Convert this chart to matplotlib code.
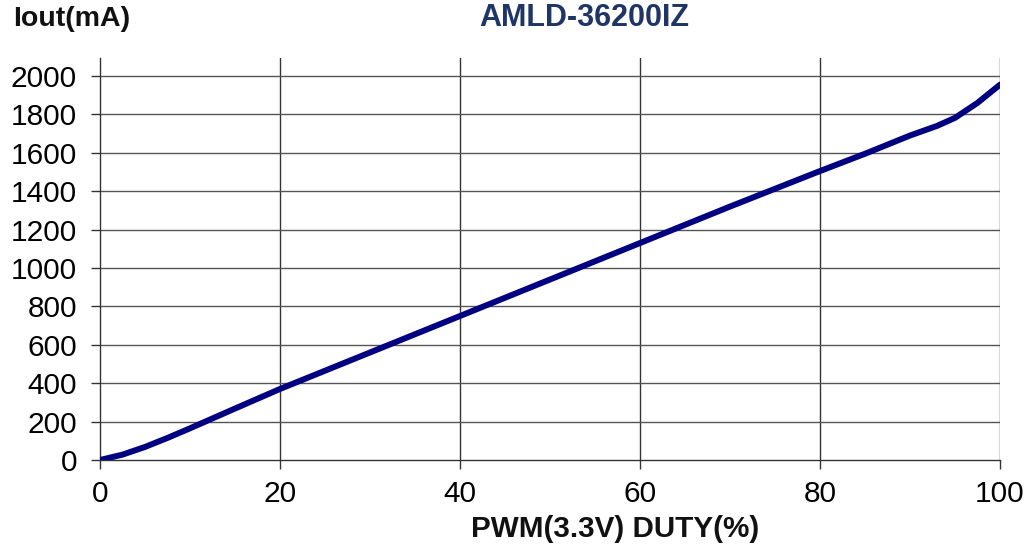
import numpy as np
import matplotlib
matplotlib.use("Agg")
from matplotlib import pyplot as plt

plt.rcParams['font.family'] = ['Liberation Sans', 'DejaVu Sans']

# duty (%) vs output current (mA)
duty = [0, 2.5, 5, 7.5, 10, 15, 20, 30, 40, 50, 60, 70, 80, 85, 90, 93, 95, 97.5, 100]
iout = [0, 28, 68, 115, 165, 268, 370, 560, 750, 940, 1130, 1320, 1505, 1595, 1690, 1740, 1782, 1860, 1955]

xticks = [0, 20, 40, 60, 80, 100]
yticks = list(range(0, 2001, 200))

fig = plt.figure(figsize=(10.24, 5.5), dpi=100)
ax = fig.add_axes([100/1024, 1 - 460/550, 900/1024, (460 - 58)/550])

ax.plot(duty, iout, color='#000080', linewidth=4.3, solid_capstyle='round',
        solid_joinstyle='round', zorder=3)

ax.set_xlim(0, 100)
ax.set_ylim(0, 2000 * (460 - 58) / (460 - 76))
ax.set_xticks(xticks)
ax.set_yticks(yticks)

for v in xticks[1:]:
    ax.axvline(v, color='#333333', linewidth=1.0, zorder=1)
for v in yticks[1:]:
    ax.axhline(v, color='#555555', linewidth=1.0, zorder=1)

for s in ['top', 'right']:
    ax.spines[s].set_visible(False)
for s in ['left', 'bottom']:
    ax.spines[s].set_color('#333333')
    ax.spines[s].set_linewidth(1.0)

ax.tick_params(direction='out', length=6.5, width=1.0, color='#333333',
               labelsize=21.5)
ax.tick_params(axis='y', pad=10)
ax.tick_params(axis='x', pad=8)

fig.text(13/1024, 1 - 19/550, 'Iout(mA)', fontsize=20.5, fontweight='bold',
         ha='left', va='center', color='#111111')
fig.text(584/1024, 1 - 18/550, 'AMLD-36200IZ', fontsize=22, fontweight='bold',
         ha='center', va='center', color='#1F3566')
fig.text(615/1024, 1 - 529/550, 'PWM(3.3V) DUTY(%)', fontsize=21.3, fontweight='bold',
         ha='center', va='center', color='#111111')

fig.savefig('out.png', dpi=100)
